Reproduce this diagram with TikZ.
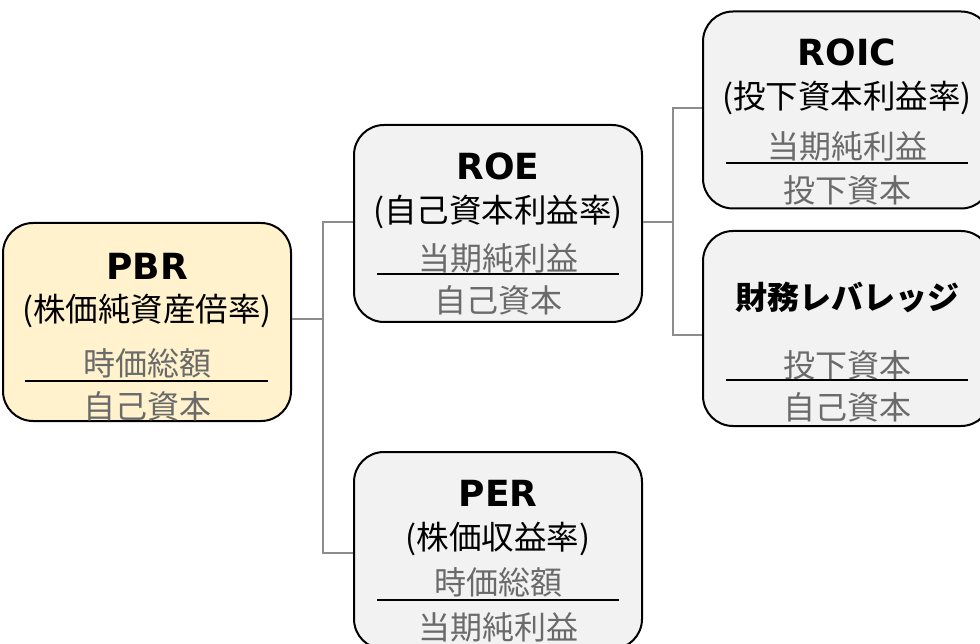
\documentclass[tikz,border=0pt]{standalone}
\usepackage{fontspec}
\setmainfont{Noto Sans CJK JP}
\newfontfamily\latinfont{DejaVu Sans}
\definecolor{boxgray}{HTML}{F2F2F2}
\definecolor{boxyellow}{HTML}{FFF2CC}
\definecolor{txtgray}{HTML}{6A6A6A}
\definecolor{linkgray}{HTML}{8C8C8C}
\tikzset{
  card/.style={draw=black, line width=2pt, rounded corners=30pt, fill=boxgray,
    minimum width=288pt, minimum height=197pt, inner sep=0pt},
  ttl/.style={font=\latinfont\bfseries\fontsize{36}{36}\selectfont, inner sep=0pt},
  jttl/.style={font=\bfseries\fontsize{32}{32}\selectfont, inner sep=0pt},
  sub/.style={font=\fontsize{32.5}{32.5}\selectfont, inner sep=0pt},
  frac/.style={font=\fontsize{32}{32}\selectfont, text=txtgray, inner sep=0pt},
  bar/.style={draw=black, line width=2pt},
  link/.style={draw=linkgray, line width=1.6pt}
}
\begin{document}
\begin{tikzpicture}[x=1pt,y=-1pt]
\clip (0,0) rectangle (980,644);
\fill[white] (0,0) rectangle (980,644);

% boxes
\node[card, fill=boxyellow, minimum height=198pt] (pbr) at (147,322) {};
\node[card] (roe) at (498,223.5) {};
\node[card] (per) at (498,550.5) {};
\node[card] (roic) at (847,110) {};
\node[card, minimum height=195pt] (lev) at (847,328.5) {};

% connectors
\draw[link] ([yshift=3pt]pbr.east) -- ++(31pt,0) coordinate (j1);
\draw[link] ([yshift=1.5pt]roe.west) -| (j1) |- ([yshift=-2.5pt]per.west);
\draw[link] ([yshift=1.5pt]roe.east) -- ++(30pt,0) coordinate (j2);
\draw[link] ([yshift=2pt]roic.west) -| (j2) |- ([yshift=-6.5pt]lev.west);

% PBR
\node[ttl] (pbr-t) at (147,266) {PBR};
\node[sub] (pbr-s) at (147,311) {(株価純資産倍率)};
\node[frac] (pbr-n) at (147,363) {時価総額};
\draw[bar] (25,381) -- (268,381);
\node[frac] (pbr-d) at (147,406) {自己資本};

% ROE
\node[ttl] (roe-t) at (498,166) {ROE};
\node[sub] (roe-s) at (498,212) {(自己資本利益率)};
\node[frac] (roe-n) at (498,258) {当期純利益};
\draw[bar] (377,274) -- (619,274);
\node[frac] (roe-d) at (498,300) {自己資本};

% PER
\node[ttl] (per-t) at (498,493) {PER};
\node[sub] (per-s) at (498,539) {(株価収益率)};
\node[frac] (per-n) at (498,582) {時価総額};
\draw[bar] (377,600) -- (619,600);
\node[frac] (per-d) at (498,627) {当期純利益};

% ROIC
\node[ttl] (roic-t) at (847,52) {ROIC};
\node[sub] (roic-s) at (847,98) {(投下資本利益率)};
\node[frac] (roic-n) at (847,146) {当期純利益};
\draw[bar] (726,163) -- (968,163);
\node[frac] (roic-d) at (847,190) {投下資本};

% Leverage
\node[jttl] (lev-t) at (847,297) {財務レバレッジ};
\node[frac] (lev-n) at (847,365) {投下資本};
\draw[bar] (726,380) -- (968,380);
\node[frac] (lev-d) at (847,407) {自己資本};
\end{tikzpicture}
\end{document}
